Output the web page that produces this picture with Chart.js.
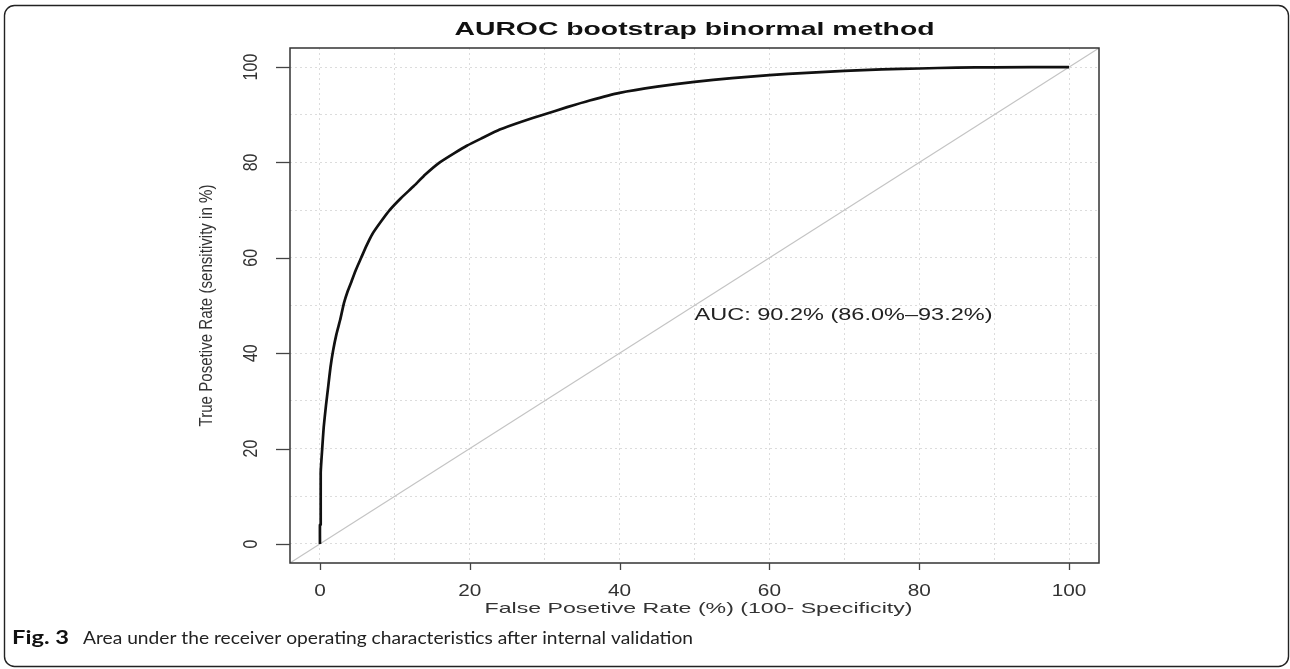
<!DOCTYPE html>
<html><head><meta charset="utf-8">
<script src="https://cdn.jsdelivr.net/npm/chart.js@4.4.1/dist/chart.umd.min.js"></script>
<style>html,body{margin:0;padding:0;background:#fff}canvas{display:block}</style>
</head><body>
<canvas id="c" width="1290" height="669"></canvas>
<script>
// ---- data ----
const fprValues = [0, 0, 0.1, 0.1, 0.3, 0.5, 0.8, 1.1, 1.4, 1.75, 2.2, 2.7, 3.2, 3.7, 4.2, 4.8, 5.5, 6.2, 7.0, 8.1, 9.3, 10.8, 12.5, 14.1, 16.0, 18.0, 19.6, 21.5, 24.0, 27.0, 29.8, 33.0, 36.0, 40.0, 45.0, 50.0, 55.0, 60.0, 65.0, 70.0, 75.0, 80.0, 85.0, 90.0, 100.0];
const tprValues = [0, 4, 4, 15, 20, 24.5, 29, 33, 37, 40.5, 44, 47, 50.5, 53, 55, 57.5, 60, 62.5, 65, 67.5, 70, 72.5, 75, 77.5, 80, 82, 83.5, 85, 86.9, 88.6, 90, 91.6, 93, 94.6, 95.9, 96.9, 97.7, 98.3, 98.8, 99.2, 99.5, 99.7, 99.9, 99.95, 100];
const diagonalX = [-4, 104];
const diagonalY = [-4, 104];
const gridValues = [0, 10, 20, 30, 40, 50, 60, 70, 80, 90, 100];
const tickValues = [0, 20, 40, 60, 80, 100];
const titleText = 'AUROC bootstrap binormal method';
const xAxisTitle = 'False Posetive Rate (%) (100- Specificity)';
const yAxisTitle = 'True Posetive Rate (sensitivity in %)';
const aucText = 'AUC: 90.2% (86.0%\u201393.2%)';
const aucPos = [50, 50];
const captionBold = 'Fig. 3';
const captionText = 'Area under the receiver operating characteristics after internal validation';

const rocPoints = fprValues.map((x, i) => ({x: x, y: tprValues[i]}));
const diagPoints = diagonalX.map((x, i) => ({x: x, y: diagonalY[i]}));

function drawText(ctx, text, x, y, o) {
  ctx.save();
  ctx.font = o.font;
  ctx.fillStyle = o.color || '#333';
  ctx.textAlign = o.align || 'center';
  ctx.textBaseline = o.baseline || 'middle';
  ctx.translate(x, y);
  if (o.rotate) ctx.rotate(-Math.PI / 2);
  let sx = o.sx || 1;
  if (o.width) sx = o.width / ctx.measureText(text).width;
  ctx.scale(sx, o.sy || 1);
  ctx.fillText(text, 0, 0);
  ctx.restore();
}

const decor = {
  id: 'decor',
  beforeDraw(chart) {
    const ctx = chart.ctx;
    ctx.save();
    ctx.fillStyle = '#fff';
    ctx.fillRect(0, 0, chart.width, chart.height);
    ctx.restore();
  },
  afterDraw(chart) {
    const ctx = chart.ctx;
    const a = chart.chartArea;
    const xs = chart.scales.x, ys = chart.scales.y;
    ctx.save();
    // plot box
    ctx.strokeStyle = '#333';
    ctx.lineWidth = 1.5;
    ctx.strokeRect(a.left, a.top, a.right - a.left, a.bottom - a.top);
    // tick marks
    ctx.lineWidth = 1.3;
    ctx.strokeStyle = '#444';
    tickValues.forEach(v => {
      const px = Math.round(xs.getPixelForValue(v)) + 0.5;
      ctx.beginPath(); ctx.moveTo(px, a.bottom); ctx.lineTo(px, a.bottom + 7); ctx.stroke();
      const py = Math.round(ys.getPixelForValue(v)) + 0.5;
      ctx.beginPath(); ctx.moveTo(a.left, py); ctx.lineTo(a.left - 14, py); ctx.stroke();
    });
    ctx.restore();
    // tick labels
    tickValues.forEach(v => {
      drawText(ctx, String(v), xs.getPixelForValue(v), a.bottom + 29,
        {font: '16px "Liberation Sans", Arial, sans-serif', sx: 1.3, color: '#333'});
      drawText(ctx, String(v), a.left - 39, ys.getPixelForValue(v),
        {font: '16px "Liberation Sans", Arial, sans-serif', rotate: true, sy: 1.25, color: '#333'});
    });
    // axis titles
    drawText(ctx, xAxisTitle, (a.left + a.right) / 2 + 4, a.bottom + 46,
      {font: '15px "Liberation Sans", Arial, sans-serif', width: 428, color: '#333'});
    drawText(ctx, yAxisTitle, a.left - 83, (a.top + a.bottom) / 2,
      {font: '15px "Liberation Sans", Arial, sans-serif', rotate: true, width: 242, sy: 1.25, color: '#333'});
    // main title
    drawText(ctx, titleText, (a.left + a.right) / 2, 30,
      {font: 'bold 19px "Liberation Sans", Arial, sans-serif', width: 480, color: '#111'});
    // AUC label
    drawText(ctx, aucText, xs.getPixelForValue(aucPos[0]), ys.getPixelForValue(aucPos[1]) + 1,
      {font: '17px "Liberation Sans", Arial, sans-serif', width: 298, align: 'left', baseline: 'top', color: '#222'});
    // caption
    drawText(ctx, captionBold, 12, 644,
      {font: 'bold 18px Lato, sans-serif', width: 57, align: 'left', baseline: 'alphabetic', color: '#111'});
    drawText(ctx, captionText, 83, 644,
      {font: '18px Lato, sans-serif', width: 610, align: 'left', baseline: 'alphabetic', color: '#222'});
    // outer rounded frame
    ctx.save();
    ctx.strokeStyle = '#222';
    ctx.lineWidth = 1.4;
    ctx.beginPath();
    ctx.roundRect(4.5, 5.5, 1284, 661, 10);
    ctx.stroke();
    ctx.restore();
  }
};

const gridOpts = {color: '#dcdcdc', lineWidth: 1, drawTicks: false};
new Chart(document.getElementById('c'), {
  type: 'scatter',
  data: {
    datasets: [
      {data: rocPoints, showLine: true, borderColor: '#111', borderWidth: 2.7, pointRadius: 0, tension: 0.15, order: 1},
      {data: diagPoints, showLine: true, borderColor: '#c4c4c4', borderWidth: 1.1, pointRadius: 0, order: 2}
    ]
  },
  options: {
    responsive: false,
    animation: false,
    devicePixelRatio: 1,
    layout: {padding: {left: 290, top: 48, right: 191, bottom: 106}},
    plugins: {legend: {display: false}, tooltip: {enabled: false}, title: {display: false}},
    scales: {
      x: {
        type: 'linear', min: -4, max: 104,
        afterBuildTicks: s => { s.ticks = gridValues.map(v => ({value: v})); },
        ticks: {display: false},
        grid: gridOpts,
        border: {display: false, dash: [2, 3]}
      },
      y: {
        type: 'linear', min: -4, max: 104,
        afterBuildTicks: s => { s.ticks = gridValues.map(v => ({value: v})); },
        ticks: {display: false},
        grid: gridOpts,
        border: {display: false, dash: [2, 3]}
      }
    }
  },
  plugins: [decor]
});
</script>
</body></html>
